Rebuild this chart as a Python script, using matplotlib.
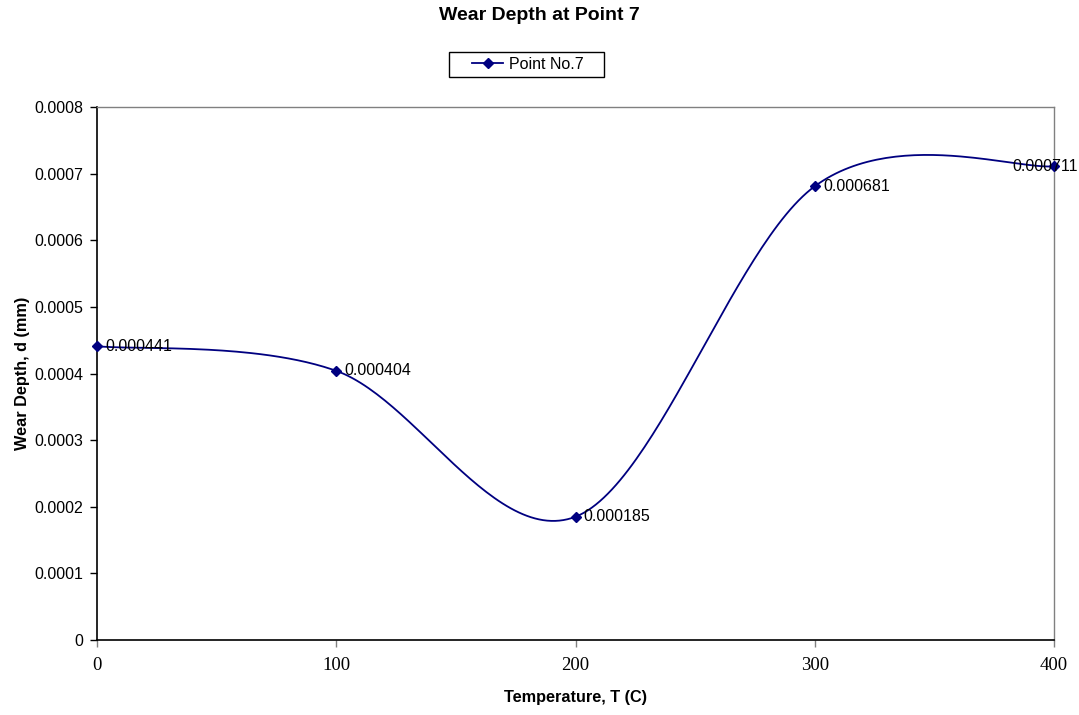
import numpy as np
import matplotlib
matplotlib.use("Agg")
import matplotlib.pyplot as plt
from matplotlib.lines import Line2D
from matplotlib.patches import Rectangle

temperature = [0, 100, 200, 300, 400]
wear_depth = [0.000441, 0.000404, 0.000185, 0.000681, 0.000711]
labels = ["0.000441", "0.000404", "0.000185", "0.000681", "0.000711"]

NAVY = "#000080"
SANS = "Liberation Sans"
SERIF = "Liberation Serif"
W, H = 1079, 715


def smooth_curve(x, y, n=60):
    """Spreadsheet-style smoothed line: cubic Bezier segments, tension 1/6."""
    p = np.column_stack([x, y]).astype(float)
    ext = np.vstack([p[0], p, p[-1]])
    t = np.linspace(0, 1, n)[:, None]
    out = []
    for i in range(len(p) - 1):
        p0, p3 = ext[i + 1], ext[i + 2]
        c1 = p0 + (ext[i + 2] - ext[i]) / 6
        c2 = p3 - (ext[i + 3] - ext[i + 1]) / 6
        seg = ((1 - t) ** 3) * p0 + 3 * ((1 - t) ** 2) * t * c1 \
            + 3 * (1 - t) * t ** 2 * c2 + t ** 3 * p3
        out.append(seg if i == 0 else seg[1:])
    out = np.vstack(out)
    return out[:, 0], out[:, 1]


fig = plt.figure(figsize=(W / 100, H / 100), dpi=100)
ax = fig.add_axes([97 / W, 1 - 640 / H, (1054 - 97) / W, (640 - 107) / H])

sx, sy = smooth_curve(temperature, wear_depth)
ax.plot(sx, sy, color=NAVY, lw=1.3, zorder=3, clip_on=False)
ax.plot(temperature, wear_depth, ls="none", marker="D", ms=5.5, color=NAVY,
        zorder=4, clip_on=False)
for i, (xv, yv, txt) in enumerate(zip(temperature, wear_depth, labels)):
    last = i == len(labels) - 1
    # the last label is pulled back so it stays inside the figure
    ax.annotate(txt, (xv, yv), xytext=(17, 0) if last else (6, 0),
                textcoords="offset points", ha="right" if last else "left",
                va="center", fontsize=11.5, family=SANS,
                annotation_clip=False, zorder=5)

ax.set_xlim(0, 400)
ax.set_ylim(0, 0.0008)
ax.set_xticks([0, 100, 200, 300, 400])
ax.set_yticks(np.arange(0, 0.00081, 0.0001))
ax.set_yticklabels(["0", "0.0001", "0.0002", "0.0003", "0.0004", "0.0005",
                    "0.0006", "0.0007", "0.0008"])
ax.tick_params(axis="y", direction="out", length=5, width=1, pad=5,
               labelsize=11.5)
ax.tick_params(axis="x", direction="out", length=5, width=1, pad=7,
               labelsize=13.5, color="#808080")
for lab in ax.get_yticklabels():
    lab.set_family(SANS)
for lab in ax.get_xticklabels():
    lab.set_family(SERIF)

for side in ("top", "right"):
    ax.spines[side].set_color("#808080")
    ax.spines[side].set_linewidth(1)
for side in ("left", "bottom"):
    ax.spines[side].set_color("black")
    ax.spines[side].set_linewidth(1.2)

ax.set_xlabel("Temperature, T (C)", fontsize=11.7, fontweight="bold",
              family=SANS, labelpad=12)
ax.set_ylabel("Wear Depth, d (mm)", fontsize=11.7, fontweight="bold",
              family=SANS, labelpad=3)

fig.text(0.5, 1 - 15 / H, "Wear Depth at Point 7", ha="center", va="center",
         fontsize=14, fontweight="bold", family=SANS)

# legend box drawn separately so its padding can be set per side
fig.patches.append(Rectangle((449 / W, 1 - 77 / H), 155 / W, 25 / H,
                             transform=fig.transFigure, fill=False,
                             edgecolor="black", lw=1))
handle = Line2D([], [], color=NAVY, lw=1.3, marker="D", ms=5.5)
fig.legend([handle], ["Point No.7"], loc="center left",
           bbox_to_anchor=(472 / W, 1 - 64.5 / H),
           prop={"family": SANS, "size": 11.5}, frameon=False,
           handlelength=1.95, borderpad=0.0, borderaxespad=0.0,
           handletextpad=0.35)

fig.savefig("out.png", dpi=100)
